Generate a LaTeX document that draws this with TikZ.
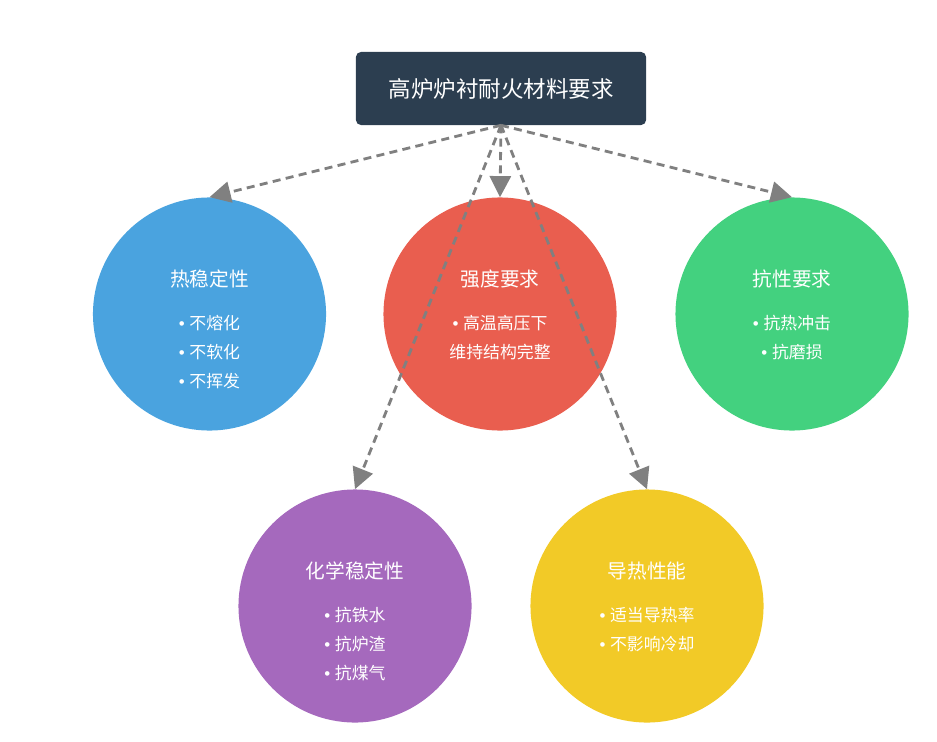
\documentclass[tikz,border=0pt]{standalone}
\usepackage{fontspec}
\setmainfont{Noto Sans CJK SC}
\newfontfamily\dotfont{Liberation Sans}
\usetikzlibrary{arrows.meta}

\definecolor{boxdark}{HTML}{2C3E50}
\definecolor{heatblue}{HTML}{4AA3DF}
\definecolor{strengthred}{HTML}{E95E4F}
\definecolor{resistgreen}{HTML}{43D17F}
\definecolor{chempurple}{HTML}{A569BD}
\definecolor{condyellow}{HTML}{F2CA27}
\definecolor{linkgray}{HTML}{808080}

\newcommand{\bul}{{\dotfont\char"2022\ }}

\begin{document}
\begin{tikzpicture}[
    x=0.025cm, y=-0.025cm,
    every node/.style={inner sep=0pt, text=white},
    bubble/.style={circle, minimum size=5.825cm},
    title/.style={font=\fontsize{14}{16}\selectfont},
    item/.style={font=\fontsize{12}{20.6}\selectfont, align=center},
    link/.style={draw=linkgray, line width=2pt, dash pattern=on 5.7pt off 3.8pt,
                 -{Triangle[length=15pt,width=15pt]}},
]
\useasboundingbox (0,0) rectangle (937,741);

% ---- column x-coordinates ----
\def\xA{209.5}   % thermal stability
\def\xB{500}     % strength
\def\xC{792}     % resistance
\def\xD{355}     % chemical stability
\def\xE{647}     % conductivity

% ---- row y-coordinates ----
\def\yTop{88.5}  % header box
\def\yU{314}     % upper row of circles
\def\yL{606}     % lower row of circles

% ---- header box ----
\node[fill=boxdark, rounded corners=3.5pt, minimum width=7.25cm, minimum height=1.825cm,
      font=\fontsize{16}{18}\selectfont] (top) at (501,\yTop) {高炉炉衬耐火材料要求};

% ---- circles ----
\node[bubble, fill=heatblue]    (heat)     at (\xA,\yU) {};
\node[bubble, fill=strengthred] (strength) at (\xB,\yU) {};
\node[bubble, fill=resistgreen] (resist)   at (\xC,\yU) {};
\node[bubble, fill=chempurple]  (chem)     at (\xD,\yL) {};
\node[bubble, fill=condyellow]  (cond)     at (\xE,\yL) {};

% ---- circle texts ----
\node[title] (heatT) at (\xA,\yU-35) {热稳定性};
\node[item]  (heatL) at (\xA,\yU+38) {\bul 不熔化\\\bul 不软化\\\bul 不挥发};

\node[title] (strengthT) at (\xB,\yU-35) {强度要求};
\node[item]  (strengthL) at (\xB,\yU+23.5) {\bul 高温高压下\\维持结构完整};

\node[title] (resistT) at (\xC,\yU-35) {抗性要求};
\node[item]  (resistL) at (\xC,\yU+23.5) {\bul 抗热冲击\\\bul 抗磨损};

\node[title] (chemT) at (\xD,\yL-35) {化学稳定性};
\node[item]  (chemL) at (\xD,\yL+38) {\bul 抗铁水\\\bul 抗炉渣\\\bul 抗煤气};

\node[title] (condT) at (\xE,\yL-35) {导热性能};
\node[item]  (condL) at (\xE,\yL+23.5) {\bul 适当导热率\\\bul 不影响冷却};

% ---- dashed links ----
\draw[link] (top.south) -- (heat.north);
\draw[link] (top.south) -- (strength.north);
\draw[link] (top.south) -- (resist.north);
\draw[link] (top.south) -- (chem.north);
\draw[link] (top.south) -- (cond.north);

\end{tikzpicture}
\end{document}
